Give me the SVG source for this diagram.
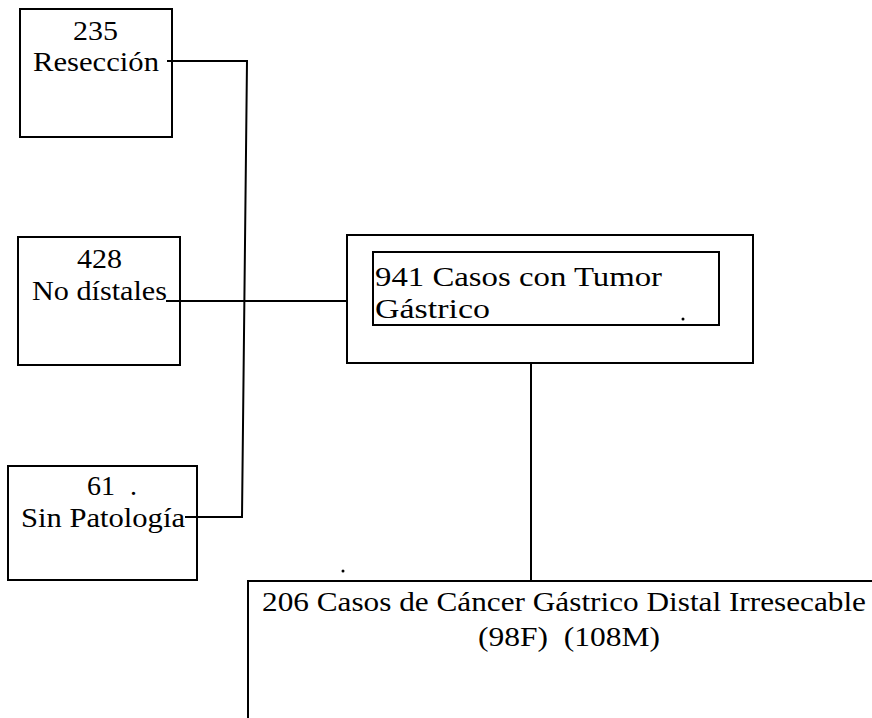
<svg xmlns="http://www.w3.org/2000/svg" width="872" height="718" viewBox="0 0 872 718">
<style>
.box{fill:none;stroke:#000;stroke-width:2}
.ln{fill:none;stroke:#000;stroke-width:2}
text{font-family:'Liberation Serif','DejaVu Serif','Times New Roman',Times,serif;font-size:28px;fill:#000}
</style>
<rect x="0" y="0" width="872" height="718" fill="#fff"/>
<g id="connectors">
<path class="ln" d="M167 61 H247 L242 517 H185"/>
<path class="ln" d="M166 301 H348"/>
<path class="ln" d="M531 363 V581"/>
</g>
<g id="n235">
<rect class="box" x="20" y="9" width="152" height="128"/>
<text x="73" y="40" textLength="45" lengthAdjust="spacingAndGlyphs">235</text>
<text x="33" y="71" textLength="126" lengthAdjust="spacingAndGlyphs">Resección</text>
</g>
<g id="n428">
<rect class="box" x="18" y="237" width="162" height="128"/>
<text x="77" y="268" textLength="45" lengthAdjust="spacingAndGlyphs">428</text>
<text x="32" y="300" textLength="135" lengthAdjust="spacingAndGlyphs">No dístales</text>
</g>
<g id="n61">
<rect class="box" x="8" y="466" width="189" height="114"/>
<text x="87" y="495" textLength="28" lengthAdjust="spacingAndGlyphs">61</text>
<text x="130" y="495">.</text>
<text x="21" y="527" textLength="164" lengthAdjust="spacingAndGlyphs">Sin Patología</text>
</g>
<g id="n941">
<rect class="box" x="347" y="235" width="406" height="128"/>
<rect class="box" x="373" y="252" width="346" height="73"/>
<text x="375" y="286" textLength="287" lengthAdjust="spacingAndGlyphs">941 Casos con Tumor</text>
<text x="375" y="318" textLength="115" lengthAdjust="spacingAndGlyphs">Gástrico</text>
<circle cx="683" cy="319" r="1.5" fill="#000"/>
</g>
<g id="n206">
<path class="box" d="M248 718 V581 H872"/>
<text x="262" y="611" textLength="604" lengthAdjust="spacingAndGlyphs">206 Casos de Cáncer Gástrico Distal Irresecable</text>
<text x="478" y="646" textLength="182" lengthAdjust="spacingAndGlyphs" xml:space="preserve">(98F)  (108M)</text>
<circle cx="343" cy="571" r="1.5" fill="#000"/>
</g>
</svg>
